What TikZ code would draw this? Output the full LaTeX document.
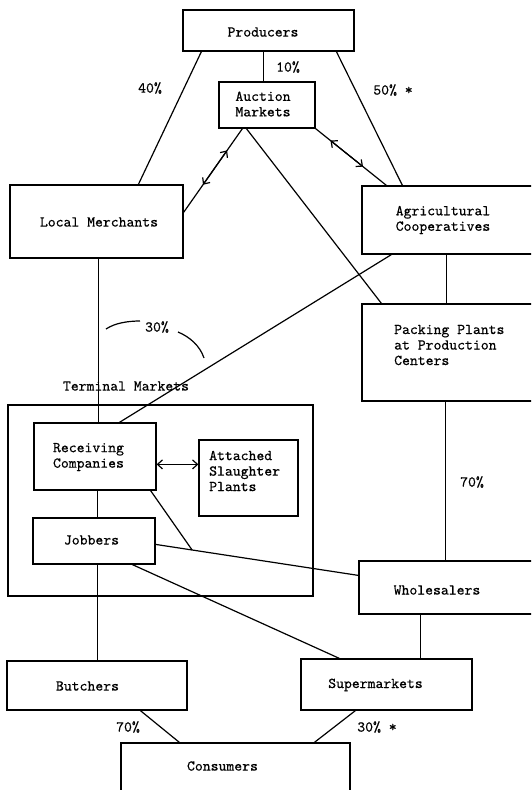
\documentclass[tikz,border=0pt]{standalone}
\usepackage{fontspec}
\setmonofont{lmmono10-regular.otf}[FakeBold=0.5]
\usetikzlibrary{calc,arrows.meta}
\begin{document}
\begin{tikzpicture}[x=1pt,y=-1pt,
  box/.style={draw,line width=1.2pt,inner sep=0pt},
  lbl/.style={inner sep=0pt,font=\ttfamily\fontsize{15}{15.5}\selectfont},
  conn/.style={line width=1.2pt},
  dbl/.style={line width=1.2pt,{Straight Barb[length=5pt,width=9pt]}-{Straight Barb[length=5pt,width=9pt]}}]
\useasboundingbox (0,0) rectangle (531,790);
\fill[white] (0,0) rectangle (531,790);
\clip (0,0) rectangle (531,790);
% boxes
\node[box,minimum width=171pt,minimum height=41pt] (prod) at (268.5,30.5) {};
\node[box,minimum width=96pt,minimum height=46pt] (auct) at (267,105) {};
\node[box,minimum width=173pt,minimum height=73pt] (lm) at (96.5,221.5) {};
\node[box,minimum width=183pt,minimum height=68pt] (ag) at (453.5,220) {};
\node[box,minimum width=183pt,minimum height=97pt] (pp) at (453.5,352.5) {};
\node[box,minimum width=305pt,minimum height=191pt] (term) at (160.5,500.5) {};
\node[box,minimum width=122pt,minimum height=67pt] (rc) at (95,456.5) {};
\node[box,minimum width=99pt,minimum height=76pt] (asp) at (248.5,478) {};
\node[box,minimum width=122pt,minimum height=46pt] (job) at (94,541) {};
\node[box,minimum width=186pt,minimum height=53pt] (wh) at (452,587.5) {};
\node[box,minimum width=180pt,minimum height=49pt] (bu) at (97,685.5) {};
\node[box,minimum width=171pt,minimum height=51pt] (sm) at (386.5,684.5) {};
\node[box,minimum width=229pt,minimum height=57pt] (con) at (235.5,771.5) {};
% texts
\node[lbl] (tprod) at (263,32) {Producers};
\node[lbl,align=center] (tauct) at (263,104) {Auction\\Markets};
\node[lbl] (tlm) at (99,222) {Local Merchants};
\node[lbl,align=center] (tag) at (443,220) {Agricultural\\Cooperatives};
\node[lbl,align=left,anchor=west] (tpp) at (394,345) {Packing Plants\\at Production\\Centers};
\node[lbl] (tterm) at (126,386) {Terminal Markets};
\node[lbl,align=center] (trc) at (88.5,457) {Receiving\\Companies};
\node[lbl,align=left,anchor=west] (tasp) at (209,471) {Attached\\Slaughter\\Plants};
\node[lbl] (tjob) at (91.5,540) {Jobbers};
\node[lbl] (twh) at (437,590) {Wholesalers};
\node[lbl] (tbu) at (87.5,686) {Butchers};
\node[lbl] (tsm) at (375.5,685) {Supermarkets};
\node[lbl] (tcon) at (222.5,766) {Consumers};
% percentages
\node[lbl] (p40) at (150,88) {40\%};
\node[lbl] (p10) at (288,67) {10\%};
\node[lbl] (p50) at (393,90) {50\% *};
\node[lbl] (p30) at (157,327) {30\%};
\node[lbl] (p70a) at (472,482) {70\%};
\node[lbl] (p70b) at (128,727) {70\%};
\node[lbl] (p30b) at (377,727) {30\% *};
% connector end points
\coordinate (lmA) at ([yshift=-28pt]lm.north east);
\coordinate (auA) at ([xshift=24pt]auct.south west);
\coordinate (auB) at (auct.south east);
\coordinate (agA) at ([xshift=25pt]ag.north west);
\coordinate (jbA) at ([yshift=-27pt]job.north east);
\coordinate (whA) at ([yshift=-15pt]wh.north west);
\coordinate (jct) at ($(jbA)!0.18!(whA)$);
% connectors
\draw[conn] ([xshift=19pt]prod.south west) -- ([xshift=129pt]lm.north west);
\draw[conn] ([xshift=81pt]prod.south west) -- ([xshift=45pt]auct.north west);
\draw[conn] ([xshift=154pt]prod.south west) -- ([xshift=41pt]ag.north west);
\draw[conn] (lmA) -- (auA);
\draw[dbl] ($(lmA)!0.33!(auA)$) -- ($(lmA)!0.74!(auA)$);
\draw[conn] (auB) -- (agA);
\draw[dbl] ($(auB)!0.21!(agA)$) -- ($(auB)!0.67!(agA)$);
\draw[conn] ([xshift=28pt]auct.south west) -- ([xshift=20pt]pp.north west);
\draw[conn] ([xshift=30pt]ag.south west) -- ([xshift=86pt]rc.north west);
\draw[conn] ([xshift=85pt]ag.south west) -- ([xshift=85pt]pp.north west);
\draw[conn] ([xshift=89pt]lm.south west) -- ([xshift=65pt]rc.north west);
\draw[conn] ([xshift=64pt]rc.south west) -- ([xshift=65pt]job.north west);
\draw[dbl] ([yshift=-42pt]rc.north east) -- ([yshift=-25pt]asp.north west);
\draw[conn] ([xshift=-6pt]rc.south east) -- (jct);
\draw[conn] (jbA) -- (whA);
\draw[conn] ([xshift=100pt]job.south west) -- ([xshift=39pt]sm.north west);
\draw[conn] ([xshift=65pt]job.south west) -- ([xshift=91pt]bu.north west);
\draw[conn] ([xshift=84pt]pp.south west) -- ([xshift=87pt]wh.north west);
\draw[conn] ([xshift=62pt]wh.south west) -- ([xshift=120pt]sm.north west);
\draw[conn] ([xshift=134pt]bu.south west) -- ([xshift=59pt]con.north west);
\draw[conn] ([xshift=55pt]sm.south west) -- ([xshift=194pt]con.north west);
% 30% brace arcs
\draw[conn] (106,329) .. controls (115,323) and (128,321) .. (140,321);
\draw[conn] (178,332) .. controls (190,337) and (200,346) .. (204,358);
\end{tikzpicture}
\end{document}
